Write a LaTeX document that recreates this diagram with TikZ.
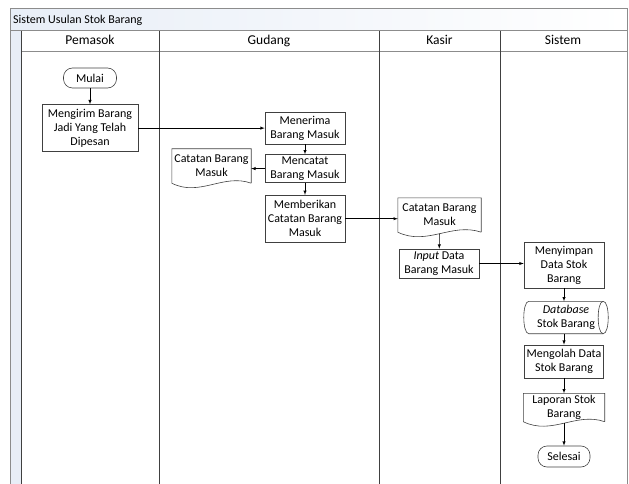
\documentclass[tikz,border=0pt]{standalone}
\usepackage{fontspec}
\setmainfont{Carlito}
\usepackage{xcolor}
\usetikzlibrary{arrows}
\usetikzlibrary{calc}
\usetikzlibrary{positioning}

\definecolor{laneline}{HTML}{404040}
\definecolor{frameline}{HTML}{8C8C8C}
\definecolor{stripfill}{HTML}{E8EEF7}
\definecolor{shapeline}{HTML}{404040}

% document symbol: straight top and sides, wavy bottom
\newcommand{\docwave}[1]{%
  \draw[draw=shapeline, line width=0.6pt] (#1.south east) -- (#1.north east) -- (#1.north west) -- (#1.south west)
    .. controls ($(#1.south west)!0.35!(#1.south east)+(0,14)$) and ($(#1.south west)!0.65!(#1.south east)+(0,-10)$) .. (#1.south east);}
% stored data symbol: lying cylinder, end face on the right
\newcommand{\storedata}[1]{%
  \draw[draw=shapeline, line width=0.6pt] ($(#1.north west)+(5,0)$) -- ($(#1.north east)+(-5,0)$)
    .. controls +(6.7,0) and +(6.7,0) .. ($(#1.south east)+(-5,0)$) -- ($(#1.south west)+(5,0)$)
    .. controls +(-6.7,0) and +(-6.7,0) .. cycle;
  \draw[draw=shapeline, line width=0.6pt] ($(#1.north east)+(-5,0)$) .. controls +(-6.7,0) and +(-6.7,0) .. ($(#1.south east)+(-5,0)$);}

\begin{document}
\begin{tikzpicture}[x=1pt,y=-1pt,>=latex,
  every node/.style={font=\fontsize{12}{14}\selectfont, align=center, inner sep=1pt},
  proc/.style={draw=shapeline, line width=0.6pt, minimum width=80pt},
  term/.style={draw=shapeline, line width=0.6pt, rounded corners=9pt, minimum width=53pt, minimum height=20pt},
  doc/.style={minimum width=80pt, minimum height=34pt},
  store/.style={minimum width=84pt, minimum height=32pt},
  frame/.style={draw=frameline, line width=1pt},
  lane/.style={draw=laneline, line width=0.6pt},
  flow/.style={->, draw=black, line width=0.5pt},
  head/.style={font=\fontsize{13.5}{16}\selectfont, text height=9.5pt, text depth=3pt}]
\useasboundingbox (0,0) rectangle (629,484);

% pool and lanes
\shade[left color=stripfill, right color=white] (10,9) rectangle (627,31);
\fill[stripfill] (10,31) rectangle (21,484);
\draw[frame] (10,484) -- (10,9) -- (627,9) -- (627,484);
\draw[frame] (10,31) -- (627,31);
\draw[frame] (21,52) -- (627,52);
\foreach \x in {21,159,379,500}
  \draw[lane] (\x,31) -- (\x,484);

\node[anchor=west] (title) at (12,20) {Sistem Usulan Stok Barang};
\node[head] (hPemasok) at (90,41.5) {Pemasok};
\node[head] (hGudang) at (269,41.5) {Gudang};
\node[head] (hKasir) at (439.5,41.5) {Kasir};
\node[head] (hSistem) at (563,41.5) {Sistem};

% Pemasok
\node[term] (mulai) at (90,78) {Mulai};
\node[proc, minimum width=96pt, minimum height=47pt, below=16pt of mulai] (kirim) {Mengirim Barang\\Jadi Yang Telah\\Dipesan};

% Gudang
\node[proc, minimum height=32pt] (terima) at (305,128) {Menerima\\Barang Masuk};
\node[proc, minimum height=28pt, below=10pt of terima] (catat) {Mencatat\\Barang Masuk};
\node[proc, minimum height=47pt, below=12pt of catat] (beri) {Memberikan\\Catatan Barang\\Masuk};
\node[doc, minimum width=79pt] (catatan) at (211.5,166) {Catatan Barang\\Masuk};
\docwave{catatan}

% Kasir
\node[doc, minimum width=83pt] (catatanK) at (439.5,215) {Catatan Barang\\Masuk};
\docwave{catatanK}
\node[proc, minimum height=29pt] (input) at (439,263.5) {\textit{Input} Data\\Barang Masuk};

% Sistem
\node[proc, minimum height=46pt] (simpan) at (564,265) {Menyimpan\\Data Stok\\Barang};
\node[store, below=13pt of simpan, xshift=2pt] (database) {\textit{Database}\\Stok Barang};
\storedata{database}
\node[proc, minimum width=79pt, minimum height=33pt, below=11pt of database, xshift=-2pt] (olah) {Mengolah Data\\Stok Barang};
\node[doc, minimum width=81pt, minimum height=28pt, below=15pt of olah] (laporan) {Laporan Stok\\Barang};
\docwave{laporan}
\node[term, minimum width=52pt, minimum height=21pt, below=24pt of laporan] (selesai) {Selesai};

% flows
\draw[flow] (mulai) -- (kirim);
\draw[flow] (kirim.east) -- (kirim.east -| terima.west);
\draw[flow] (terima) -- (catat);
\draw[flow] (catat.west) -- (catat.west -| catatan.east);
\draw[flow] (catat) -- (beri);
\draw[flow] (beri.east) -- (beri.east -| catatanK.west);
\draw[flow] ([yshift=-1.5pt]catatanK.south) -- (input);
\draw[flow] (input.east) -- (input.east -| simpan.west);
\draw[flow] (simpan.south) -- (simpan.south |- database.north);
\draw[flow] (olah.north |- database.south) -- (olah.north);
\draw[flow] (olah) -- (laporan);
\draw[flow] ([yshift=-1.5pt]laporan.south) -- (selesai);
\end{tikzpicture}
\end{document}
